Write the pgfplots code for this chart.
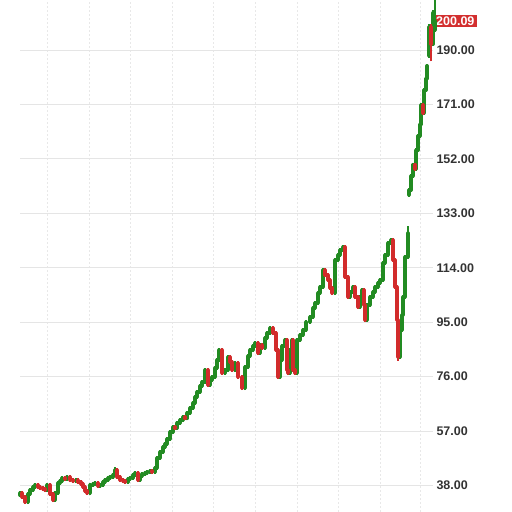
\documentclass[border=0pt]{standalone}
\usepackage{fontspec}
\setmainfont{Liberation Sans}
\usepackage{pgfplots}
\usepackage{pgfplotstable}
\pgfplotsset{compat=1.18}
\definecolor{cgreen}{HTML}{228B22}
\definecolor{cred}{HTML}{D22B2B}
\definecolor{lblred}{HTML}{D32F2F}
\definecolor{lbltext}{HTML}{333333}

\pgfplotstableread{
x o c l h
20 34.6 35.37 33.9 36.07
28 32.23 35.02 31.53 35.72
30 35.02 36.42 34.32 37.12
33 36.42 37.47 35.72 38.17
35 37.47 38.17 36.77 38.87
47 36.42 38.17 35.72 38.87
55 32.93 35.37 32.23 36.07
58 35.37 38.86 34.67 39.56
60 38.86 39.56 38.16 40.26
62 39.56 40.61 38.86 41.31
67 40.30 40.96 39.60 41.66
76 39.56 39.80 38.86 40.50
90 35.37 38.17 34.67 38.87
93 38.17 38.51 37.47 39.21
95 38.51 38.86 37.81 39.56
100 37.82 38.17 37.12 38.87
103 38.17 39.21 37.47 39.91
105 39.21 39.91 38.51 40.61
108 39.91 40.61 39.21 41.31
110 40.61 40.96 39.91 41.66
113 40.96 41.66 40.26 42.36
115 41.66 43.40 40.96 44.60
128 39.21 40.26 38.51 40.96
130 40.26 40.61 39.56 41.31
133 40.61 41.66 39.91 42.36
135 41.66 42.35 40.96 43.05
140 39.91 41.31 39.21 42.01
142 41.31 42.01 40.61 42.71
145 42.01 42.35 41.31 43.05
147 42.35 42.70 41.65 43.40
150 42.70 43.05 42.00 43.75
155 42.70 44.10 42.00 44.80
157 44.10 47.59 43.40 48.29
160 47.59 49.68 46.89 50.38
163 49.68 51.43 48.98 52.13
165 51.43 52.48 50.73 53.18
167 52.48 54.22 51.78 54.92
170 54.22 56.66 53.52 57.36
173 56.66 58.41 55.96 59.11
177 58.00 59.81 57.30 60.51
180 59.81 60.85 59.11 61.55
183 60.85 61.90 60.15 62.60
187 61.40 63.30 60.70 64.00
190 63.30 65.04 62.60 65.74
193 65.04 66.79 64.34 67.49
195 66.79 68.88 66.09 69.58
197 68.88 70.63 68.18 71.33
200 70.63 72.72 69.93 73.42
202 72.72 74.12 72.02 74.82
205 74.12 78.31 73.42 79.01
210 73.07 74.81 72.37 75.51
212 74.81 75.86 74.11 76.56
215 75.86 79.00 75.16 79.70
217 79.00 81.80 78.30 82.50
219 81.80 85.29 81.10 86.00
225 77.26 78.31 76.56 79.01
228 78.31 82.84 77.61 83.54
235 78.31 80.75 77.61 81.45
245 72.02 79.35 71.32 80.05
248 79.35 83.19 78.65 83.89
250 83.19 85.29 82.49 85.99
253 85.29 86.68 84.59 87.38
255 86.68 87.73 85.98 88.43
260 84.24 87.03 83.54 87.73
265 86.00 89.47 85.30 90.17
267 89.47 91.22 88.77 91.92
270 91.22 92.96 90.52 93.66
280 75.86 81.80 75.16 82.50
282 81.80 86.68 81.10 87.38
285 86.68 88.78 85.98 89.48
290 77.26 85.29 76.56 85.99
292 85.29 88.78 84.59 89.48
297 77.26 88.78 76.56 89.48
300 88.78 90.52 88.08 91.22
303 90.52 92.27 89.82 92.97
306 92.27 95.06 91.57 95.76
310 95.06 96.80 94.36 97.50
313 96.80 99.95 96.10 100.65
315 99.95 101.69 99.25 102.39
318 101.69 105.18 100.99 105.88
320 105.18 107.28 104.48 107.98
323 107.28 113.21 106.58 113.91
335 105.18 116.70 104.48 117.40
338 116.70 118.44 116.00 119.14
340 118.44 120.19 117.74 120.89
343 120.19 121.24 119.49 121.94
350 103.79 105.53 103.09 106.23
353 105.53 107.28 104.83 107.98
360 100.30 103.79 99.60 104.49
362 103.79 106.23 103.09 106.93
367 95.76 100.99 95.06 101.69
370 100.99 103.79 100.29 104.49
373 103.79 105.53 103.09 106.23
375 105.53 107.28 104.83 107.98
378 107.28 108.67 106.58 109.37
380 108.67 109.72 107.97 110.42
383 109.72 115.65 109.02 116.35
385 115.65 118.44 114.95 119.14
388 118.44 122.63 117.74 123.33
391 122.63 123.68 121.93 124.38
400 82.84 92.27 82.14 92.97
402 92.27 97.50 91.57 98.20
403 97.50 103.79 96.80 104.49
405 103.79 117.75 103.09 118.45
408 117.75 126.12 117.05 128.57
409 139.40 141.10 138.70 141.80
411 141.10 146.00 140.40 146.70
413 146.00 150.00 145.30 150.70
416 148.50 155.00 147.80 155.70
418 155.00 160.00 154.30 160.70
420 160.00 164.00 159.30 164.70
421 164.00 170.80 163.30 171.50
424 168.00 176.00 167.30 176.70
426 176.00 180.00 175.30 180.70
427 180.00 184.50 179.30 185.20
429 188.00 198.00 187.30 199.00
433 192.00 203.00 191.30 204.00
435 197.00 200.09 196.30 212.00
}\greentab

\pgfplotstableread{
x o c l h
22 35.37 33.98 33.28 36.07
25 33.98 32.23 31.53 34.68
38 38.17 37.47 36.77 38.87
40 37.47 37.12 36.42 38.17
43 37.12 36.77 36.07 37.82
45 36.77 36.42 35.72 37.47
50 38.17 35.02 34.32 38.87
53 35.02 32.93 32.23 35.72
65 40.61 40.30 39.60 41.31
70 40.96 39.91 39.21 41.66
73 39.91 39.56 38.86 40.61
78 39.80 39.21 38.51 40.50
81 39.21 38.51 37.81 39.91
83 38.51 37.47 36.77 39.21
85 37.47 36.07 35.37 38.17
87 36.07 35.37 34.67 36.77
98 38.86 37.82 37.12 39.56
117 43.40 40.96 40.26 44.10
120 40.96 39.91 39.21 41.66
123 39.91 39.56 38.86 40.61
125 39.56 39.21 38.51 40.26
138 42.35 39.91 39.21 43.05
152 43.05 42.70 42.00 43.75
175 58.41 58.00 57.30 59.11
185 61.90 61.40 60.70 62.60
208 78.31 73.07 72.37 79.01
222 85.29 77.26 76.56 85.99
230 82.84 81.10 80.40 83.54
232 81.10 78.31 77.61 81.80
238 80.75 75.86 75.16 81.45
242 75.86 72.02 71.32 76.56
258 87.73 84.24 83.54 88.43
262 87.03 86.00 85.30 87.73
273 92.96 91.22 90.52 93.66
276 91.22 85.29 84.59 91.92
278 85.29 75.86 75.16 85.99
287 88.78 78.31 77.61 89.48
288 78.31 77.26 76.56 79.01
293 88.78 78.31 77.61 89.48
295 78.31 77.26 76.56 79.01
325 113.21 111.46 110.76 113.91
328 111.46 109.72 109.02 112.16
330 109.72 106.93 106.23 110.42
332 106.93 105.18 104.48 107.63
345 121.24 110.77 110.07 121.94
348 110.77 103.79 103.09 111.47
355 107.28 103.79 103.09 107.98
358 103.79 100.30 99.60 104.49
364 106.23 100.99 100.29 106.93
365 100.99 95.76 95.06 101.69
393 123.68 116.70 116.00 124.38
395 116.70 107.28 106.58 117.40
397 107.28 95.76 95.06 107.98
398 95.76 82.84 81.50 96.46
415 150.00 148.50 147.80 150.70
423 170.80 168.00 167.30 171.50
431 198.00 192.00 186.00 199.00
}\redtab

\begin{document}
\begin{tikzpicture}
\begin{axis}[
  at={(0pt,0pt)}, anchor=south west,
  scale only axis,
  width=413pt, height=525.04pt,
  xmin=20, xmax=433,
  ymin=28.74, ymax=212,
  clip=false,
  axis line style={draw=none},
  major tick length=0pt,
  tick style={draw=none},
  xtick={47,89,130,172,213,255,297,338,380,420},
  xticklabels={},
  ytick={38,57,76,95,114,133,152,171,190,209},
  yticklabels={38.00,57.00,76.00,95.00,114.00,133.00,152.00,171.00,190.00,209.00},
  yticklabel pos=right,
  yticklabel style={anchor=west, text=lbltext, font=\bfseries\fontsize{12.5}{14}\selectfont},
  xmajorgrids, ymajorgrids,
  major x grid style={gray!18, dash pattern=on 2pt off 2pt, line width=0.7pt},
  major y grid style={gray!20, line width=0.9pt},
  extra y ticks={200.09},
  extra y tick labels={200.09},
  extra y tick style={grid=none, yticklabel style={fill=lblred, text=white, inner ysep=1.5pt, inner xsep=3pt}},
]
\addplot[quiver={u=0, v=\thisrow{h}-\thisrow{l}}, draw=cgreen, line width=1.3pt] table[x=x, y=l] {\greentab};
\addplot[quiver={u=0, v=\thisrow{c}-\thisrow{o}}, draw=cgreen, line width=3.4pt, line cap=round] table[x=x, y=o] {\greentab};
\addplot[quiver={u=0, v=\thisrow{h}-\thisrow{l}}, draw=cred, line width=1.3pt] table[x=x, y=l] {\redtab};
\addplot[quiver={u=0, v=\thisrow{c}-\thisrow{o}}, draw=cred, line width=3.4pt, line cap=round] table[x=x, y=o] {\redtab};
\end{axis}
\pgfresetboundingbox
\path[use as bounding box] (-20pt,0pt) rectangle (492pt,512pt);
\end{tikzpicture}
\end{document}
